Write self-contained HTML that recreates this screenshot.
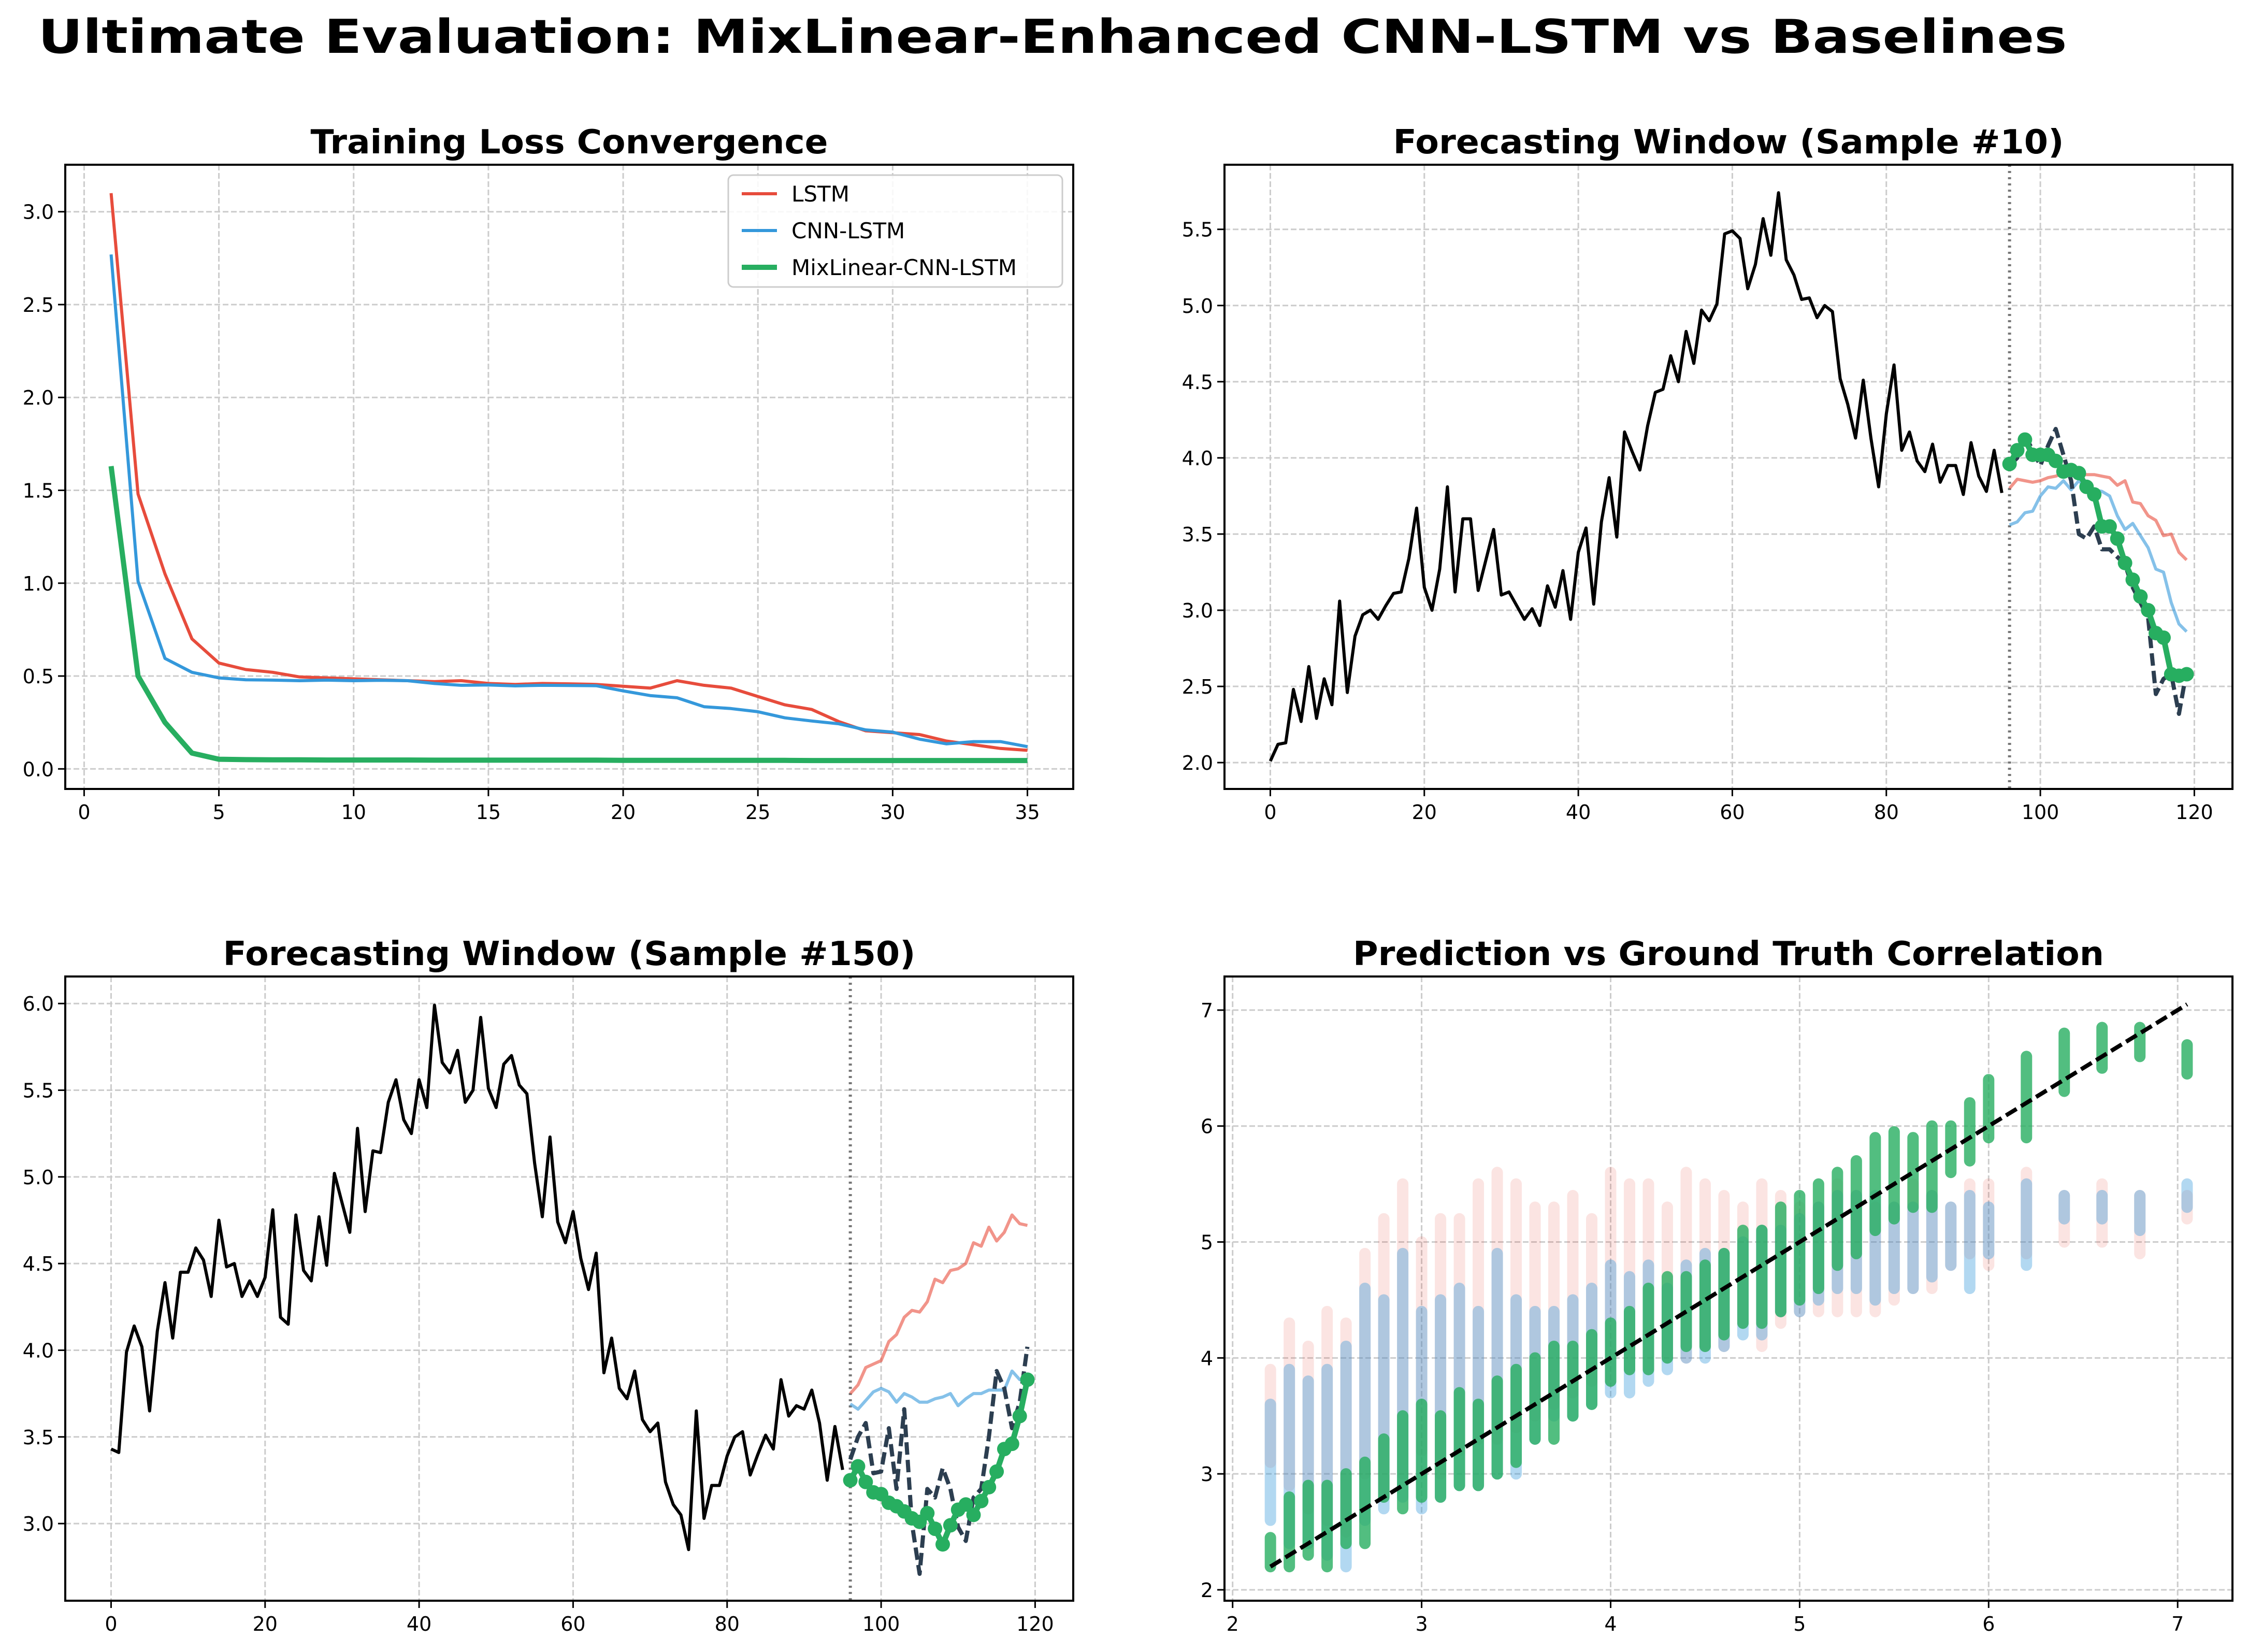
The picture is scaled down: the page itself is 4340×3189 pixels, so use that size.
<!DOCTYPE html>
<html><head><meta charset="utf-8">
<style>html,body{margin:0;padding:0;background:#fff}svg{display:block}text{font-family:"DejaVu Sans","Liberation Sans",sans-serif}</style>
</head><body>
<svg id="fig" xmlns="http://www.w3.org/2000/svg" width="4340" height="3189" viewBox="0 0 4340 3189">
<rect width="4340" height="3189" fill="#fff"/>
<text x="2032" y="102" text-anchor="middle" font-size="90" font-weight="bold" textLength="3917" lengthAdjust="spacingAndGlyphs">Ultimate Evaluation: MixLinear-Enhanced CNN-LSTM vs Baselines</text>
</svg>
<script>
// ---------- Loss data ----------
const epochs = [1,2,3,4,5,6,7,8,9,10,11,12,13,14,15,16,17,18,19,20,21,22,23,24,25,26,27,28,29,30,31,32,33,34,35];
const lossLSTM = [3.1,1.48,1.05,0.70,0.57,0.535,0.52,0.495,0.49,0.485,0.48,0.475,0.47,0.475,0.46,0.455,0.46,0.458,0.455,0.445,0.435,0.475,0.45,0.435,0.39,0.345,0.32,0.255,0.205,0.195,0.185,0.15,0.13,0.11,0.10];
const lossCNN = [2.77,1.01,0.595,0.52,0.49,0.48,0.478,0.475,0.478,0.475,0.477,0.475,0.46,0.45,0.452,0.447,0.45,0.449,0.448,0.42,0.395,0.383,0.335,0.325,0.308,0.275,0.258,0.243,0.21,0.198,0.16,0.135,0.147,0.147,0.12];
const lossMix = [1.63,0.5,0.25,0.085,0.052,0.05,0.049,0.049,0.048,0.048,0.048,0.048,0.047,0.047,0.047,0.047,0.047,0.047,0.047,0.046,0.046,0.046,0.046,0.046,0.046,0.046,0.045,0.045,0.045,0.045,0.045,0.045,0.045,0.045,0.045];
const lossXTicks = [0,5,10,15,20,25,30,35];
const lossYTicks = ["0.0","0.5","1.0","1.5","2.0","2.5","3.0"];

// ---------- Sample #10 ----------
const hist10 = [2.01,2.12,2.13,2.48,2.27,2.63,2.29,2.55,2.38,3.06,2.46,2.83,2.97,3.0,2.94,3.03,3.11,3.12,3.34,3.67,3.15,3.0,3.27,3.81,3.12,3.6,3.6,3.13,3.33,3.53,3.10,3.12,3.03,2.94,3.01,2.9,3.16,3.02,3.26,2.94,3.38,3.54,3.04,3.58,3.87,3.48,4.17,4.04,3.92,4.21,4.43,4.45,4.67,4.5,4.83,4.62,4.97,4.9,5.01,5.47,5.49,5.44,5.11,5.27,5.57,5.33,5.74,5.3,5.2,5.04,5.05,4.92,5.0,4.96,4.52,4.35,4.13,4.51,4.13,3.81,4.29,4.61,4.05,4.17,3.98,3.91,4.09,3.84,3.95,3.95,3.76,4.1,3.88,3.78,4.05,3.77];
const truth10 = [3.95,4.0,4.15,4.05,3.95,4.08,4.19,4.02,3.85,3.5,3.47,3.55,3.4,3.4,3.35,3.3,3.15,3.05,2.95,2.45,2.55,2.58,2.32,2.6];
const lstm10 = [3.8,3.86,3.85,3.84,3.85,3.87,3.88,3.9,3.89,3.89,3.89,3.89,3.88,3.87,3.82,3.85,3.71,3.7,3.62,3.59,3.49,3.5,3.38,3.33];
const cnn10 = [3.56,3.58,3.64,3.65,3.75,3.81,3.8,3.85,3.79,3.85,3.8,3.79,3.78,3.75,3.62,3.53,3.57,3.49,3.41,3.27,3.25,3.05,2.91,2.86];
const mix10 = [3.96,4.05,4.12,4.02,4.02,4.02,3.98,3.91,3.92,3.9,3.81,3.76,3.55,3.55,3.47,3.31,3.2,3.09,3.0,2.85,2.82,2.58,2.57,2.58];
const win10YTicks = ["2.0","2.5","3.0","3.5","4.0","4.5","5.0","5.5"];

// ---------- Sample #150 ----------
const hist150 = [3.43,3.41,3.99,4.14,4.02,3.65,4.11,4.39,4.07,4.45,4.45,4.59,4.52,4.31,4.75,4.48,4.5,4.31,4.4,4.31,4.42,4.81,4.19,4.15,4.78,4.46,4.4,4.77,4.49,5.02,4.85,4.68,5.28,4.8,5.15,5.14,5.43,5.56,5.33,5.25,5.56,5.4,5.99,5.66,5.6,5.73,5.43,5.5,5.92,5.51,5.4,5.65,5.7,5.53,5.48,5.08,4.77,5.23,4.74,4.62,4.8,4.53,4.35,4.56,3.87,4.07,3.78,3.72,3.88,3.6,3.53,3.58,3.24,3.11,3.05,2.85,3.65,3.03,3.22,3.22,3.39,3.5,3.53,3.28,3.4,3.51,3.43,3.83,3.62,3.68,3.66,3.77,3.58,3.25,3.56,3.31];
const truth150 = [3.37,3.5,3.58,3.29,3.3,3.55,3.2,3.66,3.0,2.71,3.2,3.15,3.32,3.2,2.98,2.9,3.15,3.2,3.5,3.88,3.78,3.55,3.7,4.02];
const lstm150 = [3.75,3.8,3.9,3.92,3.94,4.05,4.09,4.19,4.23,4.22,4.28,4.41,4.39,4.46,4.47,4.5,4.62,4.6,4.71,4.63,4.68,4.78,4.73,4.72];
const cnn150 = [3.69,3.66,3.71,3.76,3.78,3.76,3.7,3.75,3.73,3.7,3.7,3.72,3.73,3.75,3.68,3.72,3.75,3.75,3.77,3.77,3.77,3.88,3.83,3.82];
const mix150 = [3.25,3.33,3.24,3.18,3.17,3.12,3.1,3.07,3.03,3.01,3.06,2.97,2.88,2.99,3.08,3.11,3.05,3.13,3.21,3.3,3.43,3.46,3.62,3.83];
const win150YTicks = ["3.0","3.5","4.0","4.5","5.0","5.5","6.0"];
const winXTicks = [0,20,40,60,80,100,120];

// ---------- Correlation strips (ground truth value, prediction range) ----------
const corrTruth = [2.2,2.3,2.4,2.5,2.6,2.7,2.8,2.9,3.0,3.1,3.2,3.3,3.4,3.5,3.6,3.7,3.8,3.9,4.0,4.1,4.2,4.3,4.4,4.5,4.6,4.7,4.8,4.9,5.0,5.1,5.2,5.3,5.4,5.5,5.6,5.7,5.8,5.9,6.0,6.2,6.4,6.6,6.8,7.05];
const lstmLow  = [3.1,2.9,2.7,2.6,2.5,3.0,2.8,3.0,3.2,3.0,3.2,3.3,3.3,3.4,3.5,3.6,3.7,3.8,3.8,3.9,3.9,4.0,4.0,4.1,4.1,4.3,4.1,4.3,4.4,4.4,4.4,4.4,4.4,4.5,4.6,4.6,4.8,4.9,4.8,4.9,5.0,5.0,4.9,5.2];
const lstmHigh = [3.9,4.3,4.1,4.4,4.3,4.9,5.2,5.5,5.0,5.2,5.2,5.5,5.6,5.5,5.3,5.3,5.4,5.2,5.6,5.5,5.5,5.3,5.6,5.5,5.4,5.3,5.5,5.4,5.3,5.3,5.5,5.4,5.3,5.3,5.5,5.4,5.3,5.5,5.5,5.6,5.4,5.5,5.4,5.4];
const cnnLow   = [2.6,2.4,2.4,2.3,2.2,2.6,2.7,2.8,2.7,2.8,2.9,2.9,3.0,3.0,3.3,3.5,3.5,3.6,3.7,3.7,3.8,3.9,4.0,4.0,4.1,4.2,4.2,4.4,4.4,4.5,4.6,4.6,4.5,4.6,4.6,4.7,4.8,4.6,4.9,4.8,5.2,5.2,5.1,5.3];
const cnnHigh  = [3.6,3.9,3.8,3.9,4.1,4.6,4.5,4.9,4.4,4.5,4.6,4.4,4.9,4.5,4.4,4.4,4.5,4.6,4.8,4.7,4.8,4.6,4.8,4.9,4.9,5.0,5.1,5.1,5.2,5.3,5.4,5.4,5.4,5.3,5.3,5.4,5.3,5.4,5.3,5.5,5.4,5.4,5.4,5.5];
const mixLow   = [2.2,2.2,2.3,2.2,2.4,2.4,2.8,2.7,2.8,2.8,2.9,2.9,3.0,3.1,3.3,3.3,3.5,3.6,3.8,3.9,3.9,4.0,4.1,4.1,4.2,4.3,4.3,4.4,4.5,4.6,4.8,4.9,5.1,5.2,5.3,5.3,5.6,5.7,5.9,5.9,6.3,6.5,6.6,6.45];
const mixHigh  = [2.45,2.8,2.9,2.9,3.0,3.1,3.3,3.5,3.6,3.5,3.7,3.6,3.8,3.9,4.0,4.1,4.1,4.2,4.3,4.4,4.6,4.7,4.7,4.8,4.9,5.1,5.1,5.3,5.4,5.5,5.6,5.7,5.9,5.95,5.9,6.0,6.0,6.2,6.4,6.6,6.8,6.85,6.85,6.7];
const corrTicks = [2,3,4,5,6,7];

const NS = "http://www.w3.org/2000/svg";
const svg = document.getElementById('fig');
function mk(tag, attrs, parent) {
  const e = document.createElementNS(NS, tag);
  for (const k in attrs) e.setAttribute(k, attrs[k]);
  (parent || svg).appendChild(e);
  return e;
}
function axes(name, x0, y0, w, h, xmin, xmax, ymin, ymax) {
  const g = mk('g', {});
  
  
  const sx = v => x0 + (v - xmin) / (xmax - xmin) * w;
  const sy = v => y0 + h - (v - ymin) / (ymax - ymin) * h;
  const clipId = name + '-clip';
  const cp = mk('clipPath', {id: clipId}, g);
  mk('rect', {x: x0, y: y0, width: w, height: h}, cp);
  const plot = mk('g', {'clip-path': 'url(#' + clipId + ')'}, g);
  return {g, plot, sx, sy, x0, y0, w, h};
}
function grid(ax, xt, yt, xlab, ylab) {
  xt.forEach((t, i) => {
    const x = ax.sx(+t);
    const l = mk('line', {x1: x, x2: x, y1: ax.y0, y2: ax.y0 + ax.h, stroke: '#cccccc', 'stroke-width': 3, 'stroke-dasharray': '11,5'}, ax.plot);
    
    
    mk('line', {x1: x, x2: x, y1: ax.y0 + ax.h, y2: ax.y0 + ax.h + 14, stroke: '#000', 'stroke-width': 3}, ax.g);
    const tx = mk('text', {x: x, y: ax.y0 + ax.h + 58, 'text-anchor': 'middle', 'font-size': 38}, ax.g);
    
    
    tx.textContent = xlab ? xlab[i] : t;
  });
  yt.forEach((t, i) => {
    const y = ax.sy(+t);
    const l = mk('line', {x1: ax.x0, x2: ax.x0 + ax.w, y1: y, y2: y, stroke: '#cccccc', 'stroke-width': 3, 'stroke-dasharray': '11,5'}, ax.plot);
    
    
    mk('line', {x1: ax.x0 - 14, x2: ax.x0, y1: y, y2: y, stroke: '#000', 'stroke-width': 3}, ax.g);
    const tx = mk('text', {x: ax.x0 - 22, y: y + 14, 'text-anchor': 'end', 'font-size': 38}, ax.g);
    
    
    tx.textContent = ylab ? ylab[i] : t;
  });
}
function frame(ax) {
  const r = mk('rect', {x: ax.x0, y: ax.y0, width: ax.w, height: ax.h, fill: 'none', stroke: '#000', 'stroke-width': 4}, ax.g);
  
  
}
function title(ax, txt, len, name) {
  const t = mk('text', {x: ax.x0 + ax.w / 2, y: ax.y0 - 22, 'text-anchor': 'middle', 'font-size': 64, 'font-weight': 'bold', textLength: len, lengthAdjust: 'spacingAndGlyphs'}, ax.g);
  
  
  t.textContent = txt;
}
function line(ax, xs, ys, attrs, name) {
  const d = ys.map((v, i) => (i ? 'L' : 'M') + ax.sx(xs[i]).toFixed(1) + ',' + ax.sy(v).toFixed(1)).join('');
  const p = mk('path', Object.assign({d: d, fill: 'none', 'stroke-linejoin': 'round'}, attrs), ax.plot);
  
  
  return p;
}
function markers(ax, xs, ys, color, r, name) {
  ys.forEach((v, i) => {
    const c = mk('circle', {cx: ax.sx(xs[i]), cy: ax.sy(v), r: r, fill: color}, ax.plot);
    
    
  });
}

// ---- Panel 1: loss ----
const a1 = axes('loss-chart', 126, 318, 1946, 1205, -0.7, 36.7, -0.108, 3.253);
grid(a1, lossXTicks, lossYTicks);
line(a1, epochs, lossLSTM, {stroke: '#e74c3c', 'stroke-width': 6}, 'lstm-loss-line');
line(a1, epochs, lossCNN, {stroke: '#3498db', 'stroke-width': 6}, 'cnn-lstm-loss-line');
line(a1, epochs, lossMix, {stroke: '#27ae60', 'stroke-width': 10}, 'mixlinear-loss-line');
frame(a1);
title(a1, 'Training Loss Convergence', 999, 'loss-chart-title');
// legend
const lg = mk('g', {});


mk('rect', {x: 1406, y: 338, width: 645, height: 216, rx: 10, fill: '#fff', 'fill-opacity': 0.85, stroke: '#cccccc', 'stroke-width': 3}, lg);
const legItems = [['LSTM', '#e74c3c', 6], ['CNN-LSTM', '#3498db', 6], ['MixLinear-CNN-LSTM', '#27ae60', 10]];
legItems.forEach((it, i) => {
  const y = 374 + i * 71;
  const e = mk('g', {}, lg);
  
  
  mk('line', {x1: 1432, x2: 1500, y1: y, y2: y, stroke: it[1], 'stroke-width': it[2]}, e);
  const t = mk('text', {x: 1528, y: y + 15, 'font-size': 42}, e);
  t.textContent = it[0];
});

// ---- forecast panels ----
function forecast(name, x0, y0, ymin, ymax, hist, tr, ls, cn, mx, yticks, ttl, tlen) {
  const ax = axes(name, x0, y0, 1946, 1205, -5.95, 124.95, ymin, ymax);
  grid(ax, winXTicks, yticks);
  const hx = hist.map((_, i) => i);
  const fx = tr.map((_, i) => hist.length + i);
  const vl = mk('line', {x1: ax.sx(hist.length), x2: ax.sx(hist.length), y1: ax.y0, y2: ax.y0 + ax.h, stroke: '#777', 'stroke-width': 6, 'stroke-dasharray': '4,8'}, ax.plot);
  
  
  line(ax, hx, hist, {stroke: '#000', 'stroke-width': 6}, 'history-line');
  line(ax, fx, ls, {stroke: '#e74c3c', 'stroke-opacity': 0.6, 'stroke-width': 6}, 'lstm-forecast-line');
  line(ax, fx, cn, {stroke: '#3498db', 'stroke-opacity': 0.6, 'stroke-width': 6}, 'cnn-lstm-forecast-line');
  line(ax, fx, tr, {stroke: '#2c3e50', 'stroke-width': 8, 'stroke-dasharray': '24,10'}, 'ground-truth-line');
  line(ax, fx, mx, {stroke: '#27ae60', 'stroke-width': 11}, 'mixlinear-forecast-line');
  markers(ax, fx, mx, '#27ae60', 14, 'mixlinear-marker');
  frame(ax);
  title(ax, ttl, tlen, name + '-title');
}
forecast('forecast-sample-10', 2364, 318, 1.827, 5.924, hist10, truth10, lstm10, cnn10, mix10, win10YTicks, 'Forecasting Window (Sample #10)', 1295);
forecast('forecast-sample-150', 126, 1885, 2.555, 6.156, hist150, truth150, lstm150, cnn150, mix150, win150YTicks, 'Forecasting Window (Sample #150)', 1337);

// ---- correlation ----
const a4 = axes('correlation-chart', 2364, 1885, 1946, 1205, 1.957, 7.29, 1.906, 7.29);
grid(a4, corrTicks, corrTicks);
function strips(lo, hi, color, op, w, name) {
  corrTruth.forEach((t, i) => {
    const s = mk('line', {x1: a4.sx(t), x2: a4.sx(t), y1: a4.sy(lo[i]), y2: a4.sy(hi[i]), stroke: color, 'stroke-opacity': op, 'stroke-width': w, 'stroke-linecap': 'round'}, a4.plot);
    
    
  });
}
strips(lstmLow, lstmHigh, '#e74c3c', 0.15, 22, 'lstm-scatter-strip');
strips(cnnLow, cnnHigh, '#3498db', 0.38, 22, 'cnn-lstm-scatter-strip');
strips(mixLow, mixHigh, '#27ae60', 0.8, 22, 'mixlinear-scatter-strip');
const idl = mk('line', {x1: a4.sx(2.2), y1: a4.sy(2.2), x2: a4.sx(7.05), y2: a4.sy(7.05), stroke: '#000', 'stroke-width': 8, 'stroke-dasharray': '24,10'}, a4.plot);


frame(a4);
title(a4, 'Prediction vs Ground Truth Correlation', 1450, 'correlation-chart-title');
</script>
</body></html>
